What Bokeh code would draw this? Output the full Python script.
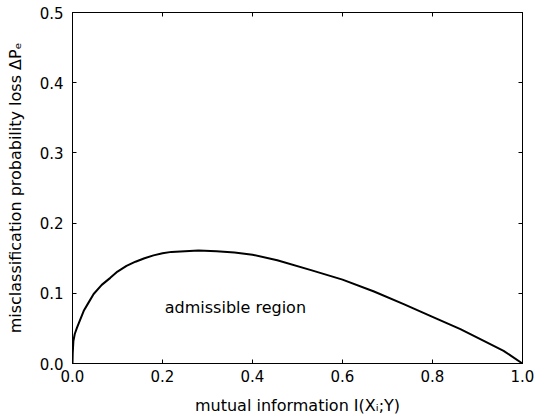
from bokeh.plotting import figure
from bokeh.models import LinearAxis, FixedTicker, PrintfTickFormatter, Range1d, Label
from bokeh.embed import file_html
from bokeh.resources import INLINE

# Data
mutual_info = [0.0, 0.0005, 0.002, 0.005, 0.01, 0.025, 0.035, 0.047, 0.065, 0.084, 0.1,
               0.12, 0.14, 0.16, 0.18, 0.2, 0.22, 0.25, 0.28, 0.32, 0.36, 0.4, 0.455,
               0.53, 0.6, 0.67, 0.736, 0.8, 0.862, 0.914, 0.958, 1.0]
prob_loss = [0.0, 0.015, 0.032, 0.042, 0.051, 0.075, 0.086, 0.099, 0.112, 0.122, 0.131,
             0.139, 0.145, 0.150, 0.154, 0.157, 0.159, 0.160, 0.161, 0.160, 0.158, 0.155,
             0.147, 0.133, 0.1195, 0.1025, 0.0846, 0.0665, 0.049, 0.0323, 0.018, 0.0]
x_ticks = [0.0, 0.2, 0.4, 0.6, 0.8, 1.0]
y_ticks = [0.0, 0.1, 0.2, 0.3, 0.4, 0.5]
region_label = "admissible region"
region_pos = (0.362, 0.08)

FONT = "DejaVu Sans"

p = figure(width=534, height=417, output_backend="svg", toolbar_location=None,
           x_range=Range1d(0, 1), y_range=Range1d(0, 0.5),
           min_border_left=72, min_border_right=12, min_border_top=12, min_border_bottom=54)
p.grid.visible = False
p.background_fill_color = "white"
p.border_fill_color = "white"
p.outline_line_color = "black"
p.outline_line_width = 1

p.line(mutual_info, prob_loss, line_color="black", line_width=2)

p.add_layout(Label(x=region_pos[0], y=region_pos[1], text=region_label,
                   text_align="center", text_baseline="middle",
                   text_font=FONT, text_font_size="16px", text_color="black"))

def style(ax, ticks, labels=True):
    ax.ticker = FixedTicker(ticks=ticks)
    ax.formatter = PrintfTickFormatter(format="%.1f")
    ax.major_tick_in = 4
    ax.major_tick_out = 0
    ax.minor_tick_line_color = None
    ax.axis_line_color = "black"
    ax.major_tick_line_color = "black"
    if labels:
        ax.major_label_text_font = FONT
        ax.major_label_text_font_size = "15px"
        ax.major_label_text_color = "black"
        ax.axis_label_text_font = FONT
        ax.axis_label_text_font_size = "16px"
        ax.axis_label_text_font_style = "normal"
        ax.axis_label_text_color = "black"
    else:
        ax.major_label_text_color = None
        ax.major_label_text_font_size = "0px"
        ax.major_label_standoff = 0

xa = p.xaxis[0]
style(xa, x_ticks)
xa.axis_label = "mutual information I(Xᵢ;Y)"
xa.major_label_standoff = 6
xa.axis_label_standoff = 11

ya = p.yaxis[0]
style(ya, y_ticks)
ya.axis_label = "misclassification probability loss ΔPₑ"
ya.major_label_standoff = 9
ya.axis_label_standoff = 12

top = LinearAxis()
style(top, x_ticks, labels=False)
p.add_layout(top, "above")
right = LinearAxis()
style(right, y_ticks, labels=False)
p.add_layout(right, "right")

open("out.html", "w").write(file_html(p, INLINE))
